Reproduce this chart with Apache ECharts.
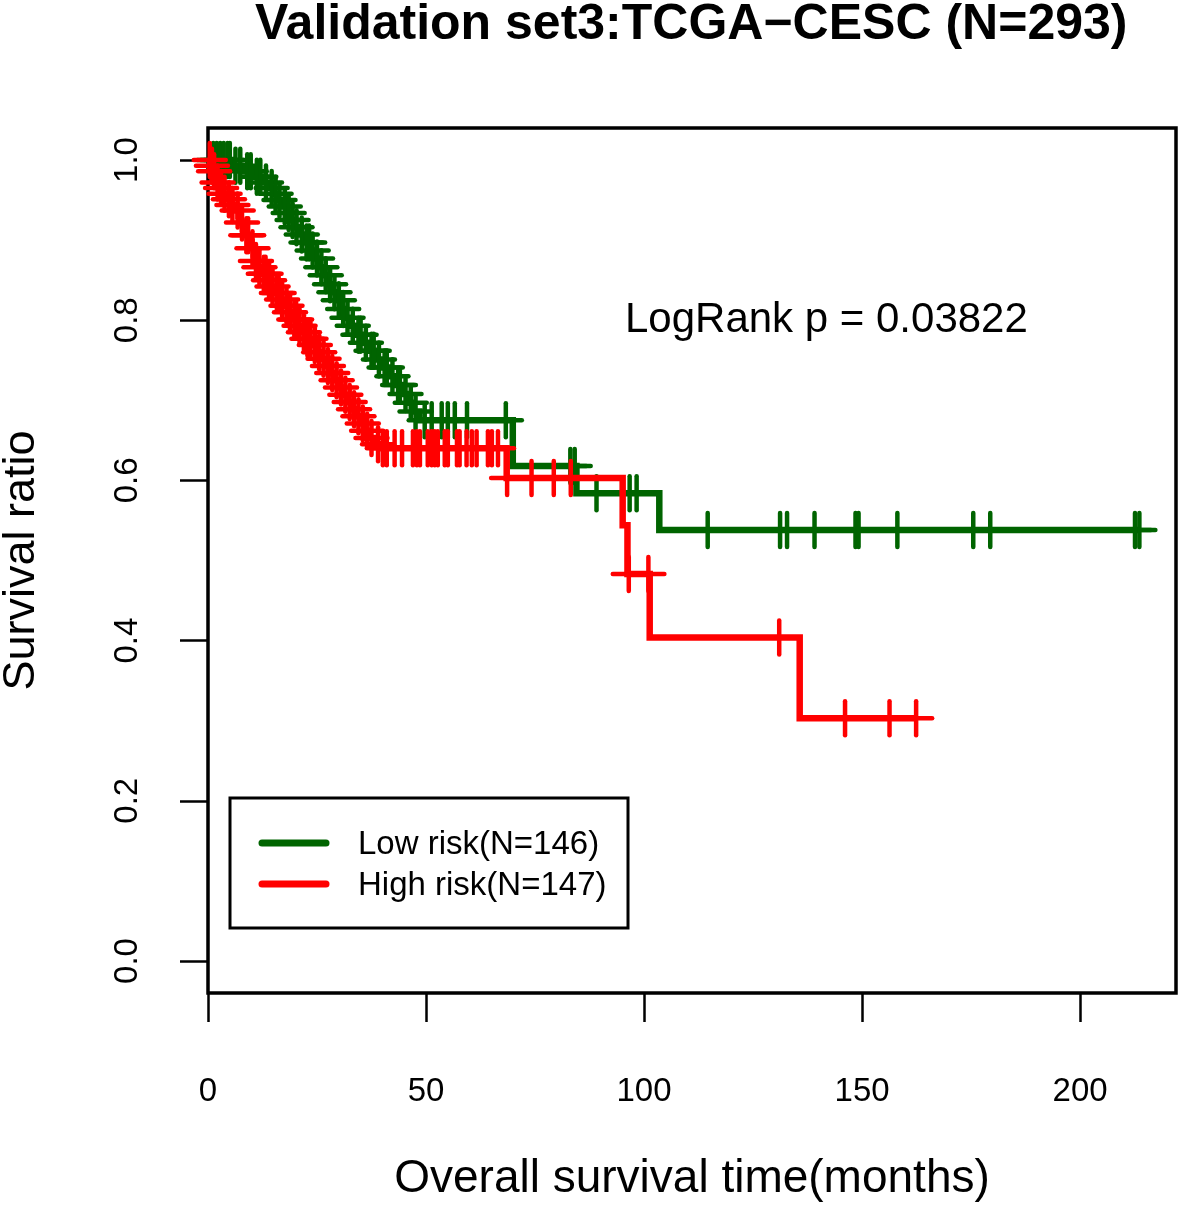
<!DOCTYPE html>
<html>
<head>
<meta charset="utf-8">
<script src="https://cdn.jsdelivr.net/npm/echarts@6/dist/echarts.min.js"></script>
<style>
html,body{margin:0;padding:0;background:#fff;}
#chart{width:1181px;height:1206px;}
</style>
</head>
<body>
<div id="chart"></div>
<script>
// ---- data ----
const xTicks = [0, 50, 100, 150, 200];
const yTicks = [0, 0.2, 0.4, 0.6, 0.8, 1.0];
const yTickLabels = ['0.0', '0.2', '0.4', '0.6', '0.8', '1.0'];

// Low risk: step times and survival after each step
const lowTime = [0, 5.5, 8, 10.5, 12.5, 14, 15, 16, 17, 18, 19, 20, 21, 22, 23.5, 24.5, 25.5, 26.5, 27.5, 28.5, 29.5, 30.5, 31.5, 32.5, 34, 35.5, 37, 38.5, 40, 41.5, 43, 44.5, 46, 47, 48.5, 69.9, 84.5, 103.5, 213.6];
const lowSurv = [1.0, 0.993, 0.986, 0.979, 0.972, 0.965, 0.958, 0.95, 0.942, 0.934, 0.925, 0.916, 0.907, 0.897, 0.887, 0.877, 0.866, 0.856, 0.845, 0.835, 0.825, 0.814, 0.803, 0.793, 0.782, 0.772, 0.762, 0.751, 0.741, 0.73, 0.719, 0.708, 0.697, 0.686, 0.675, 0.618, 0.584, 0.538, 0.538];
const lowCensor = [1.2, 2.0, 2.8, 3.6, 4.5, 5.0, 6.3, 7.4, 9.0, 9.8, 11.2, 12.0, 13.3, 14.6, 15.5, 16.4, 17.6, 18.5, 19.4, 20.3, 21.5, 22.6, 23.2, 24.0, 25.0, 26.0, 27.0, 28.0, 29.0, 30.0, 31.0, 32.0, 33.2, 34.5, 35.0, 36.2, 37.5, 38.0, 39.2, 40.5, 41.0, 42.3, 43.6, 44.0, 45.3, 46.5, 47.6, 49.7, 51.3, 53.6, 55.0, 56.6, 59.4, 68.3, 83.1, 84.1, 89.1, 96.7, 98.3, 114.6, 131.2, 132.8, 139.1, 148.5, 149.2, 158.1, 175.5, 179.4, 212.6, 213.6];

// High risk
const highTime = [0, 0.5, 1, 1.5, 2, 2.5, 3.5, 4.5, 5.5, 6.5, 7, 7.5, 8, 8.5, 9.5, 10, 10.5, 11, 11.5, 12.5, 13.5, 14.5, 15.5, 16.5, 17.5, 18.5, 19.5, 20.5, 21.5, 22.5, 24, 25, 26, 27, 28, 29, 30, 31, 32, 33, 34, 35, 36, 37, 38.5, 40, 68.5, 95.1, 96.2, 101.3, 135.7, 162.4];
const highSurv = [1.0, 0.993, 0.986, 0.979, 0.972, 0.965, 0.958, 0.951, 0.944, 0.937, 0.93, 0.922, 0.914, 0.906, 0.898, 0.89, 0.882, 0.874, 0.866, 0.858, 0.85, 0.842, 0.834, 0.826, 0.818, 0.81, 0.801, 0.793, 0.785, 0.777, 0.769, 0.76, 0.752, 0.743, 0.734, 0.725, 0.716, 0.707, 0.698, 0.689, 0.68, 0.671, 0.662, 0.653, 0.645, 0.64, 0.603, 0.544, 0.483, 0.404, 0.303, 0.303];
const highCensor = [0.4, 0.9, 1.4, 2.2, 3.0, 3.8, 4.8, 5.6, 6.8, 7.8, 8.8, 9.2, 10.2, 11.0, 11.8, 12.8, 13.2, 14.0, 14.8, 15.8, 16.2, 17.0, 18.0, 18.8, 19.8, 20.2, 21.0, 22.0, 22.8, 23.5, 24.5, 25.5, 26.5, 27.5, 28.5, 29.5, 30.5, 31.5, 32.5, 33.5, 34.5, 35.5, 36.5, 37.5, 39.0, 40.1, 41.0, 42.8, 44.5, 47.0, 47.9, 48.6, 50.4, 51.3, 52.0, 52.7, 54.3, 55.0, 57.1, 57.7, 59.3, 60.5, 61.6, 64.2, 65.1, 66.5, 68.6, 74.2, 79.3, 83.2, 96.5, 101.0, 131.0, 146.1, 156.3, 162.4];

const groupNames = ['Low risk(N=146)', 'High risk(N=147)'];
const titleText = 'Validation set3:TCGA\u2212CESC (N=293)';
const pText = 'LogRank p = 0.03822';

// ---- build ----
const FONT = '"Liberation Sans", Arial, sans-serif';
const GREEN = '#006400', RED = '#FF0000';

function pairs(t, s) { return t.map((v, i) => [v, s[i]]); }
function survAt(t, times, surv) {
  let v = surv[0];
  for (let i = 0; i < times.length; i++) { if (times[i] <= t) v = surv[i]; }
  return v;
}
function censorPts(c, times, surv) { return c.map(t => [t, survAt(t, times, surv)]); }

function plusRender(color) {
  return function (params, api) {
    const p = api.coord([api.value(0), api.value(1)]);
    const st = { stroke: color, lineWidth: 4.5, lineCap: 'round' };
    return {
      type: 'group',
      children: [
        { type: 'line', shape: { x1: p[0] - 16, y1: p[1], x2: p[0] + 16, y2: p[1] }, style: st },
        { type: 'line', shape: { x1: p[0], y1: p[1] - 17, x2: p[0], y2: p[1] + 17 }, style: st }
      ]
    };
  };
}

const chart = echarts.init(document.getElementById('chart'), null, { renderer: 'canvas' });
chart.setOption({
  animation: false,
  backgroundColor: '#fff',
  textStyle: { fontFamily: FONT },
  grid: { left: 208, right: 5, top: 128, bottom: 213, show: true, borderColor: '#000', borderWidth: 3.5,
    backgroundColor: 'transparent', containLabel: false, outerBoundsMode: 'none' },
  xAxis: {
    type: 'value', min: 0, max: 222,
    axisLine: { show: false, onZero: false }, splitLine: { show: false },
    axisTick: { show: true, length: 29, lineStyle: { color: '#000', width: 2.5 }, customValues: xTicks },
    axisLabel: { customValues: xTicks, fontSize: 33, color: '#000', margin: 82, fontFamily: FONT },
    name: 'Overall survival time(months)', nameLocation: 'middle', nameGap: 163,
    nameTextStyle: { fontSize: 46, color: '#000', fontFamily: FONT }
  },
  yAxis: {
    type: 'value', min: -0.04, max: 1.04,
    axisLine: { show: false, onZero: false }, splitLine: { show: false },
    axisTick: { show: true, length: 28, lineStyle: { color: '#000', width: 2.5 }, customValues: yTicks },
    axisLabel: { customValues: yTicks, rotate: 90, fontSize: 33, color: '#000', margin: 64, fontFamily: FONT,
      formatter: v => yTickLabels[yTicks.findIndex(t => Math.abs(t - v) < 1e-6)] },
    name: 'Survival ratio', nameLocation: 'middle', nameGap: 164,
    nameTextStyle: { fontSize: 45, color: '#000', fontFamily: FONT }
  },
  series: [
    { type: 'line', name: groupNames[0], data: pairs(lowTime, lowSurv), step: 'end', symbol: 'none',
      lineStyle: { color: GREEN, width: 6.5, join: 'miter' }, z: 2 },
    { type: 'custom', data: censorPts(lowCensor, lowTime, lowSurv), renderItem: plusRender(GREEN), clip: false, z: 3 },
    { type: 'line', name: groupNames[1], data: pairs(highTime, highSurv), step: 'end', symbol: 'none',
      lineStyle: { color: RED, width: 6.5, join: 'miter' }, z: 4 },
    { type: 'custom', data: censorPts(highCensor, highTime, highSurv), renderItem: plusRender(RED), clip: false, z: 5 }
  ],
  graphic: [
    { type: 'text', left: 692 - 437, top: 0, style: { text: titleText, font: 'bold 50px ' + FONT, fill: '#000', textAlign: 'left' } },
    { type: 'text', x: 625, y: 320, style: { text: pText, font: '42px ' + FONT, fill: '#000', textVerticalAlign: 'middle' } },
    { type: 'rect', shape: { x: 230, y: 798, width: 398, height: 130 }, style: { fill: '#fff', stroke: '#000', lineWidth: 3 }, z: 10 },
    { type: 'line', shape: { x1: 262, y1: 843, x2: 326, y2: 843 }, style: { stroke: GREEN, lineWidth: 7, lineCap: 'round' }, z: 11 },
    { type: 'line', shape: { x1: 262, y1: 884, x2: 326, y2: 884 }, style: { stroke: RED, lineWidth: 7, lineCap: 'round' }, z: 11 },
    { type: 'text', x: 358, y: 845, style: { text: groupNames[0], font: '33px ' + FONT, fill: '#000', textVerticalAlign: 'middle' }, z: 11 },
    { type: 'text', x: 358, y: 886, style: { text: groupNames[1], font: '33px ' + FONT, fill: '#000', textVerticalAlign: 'middle' }, z: 11 }
  ]
});
</script>
</body>
</html>
